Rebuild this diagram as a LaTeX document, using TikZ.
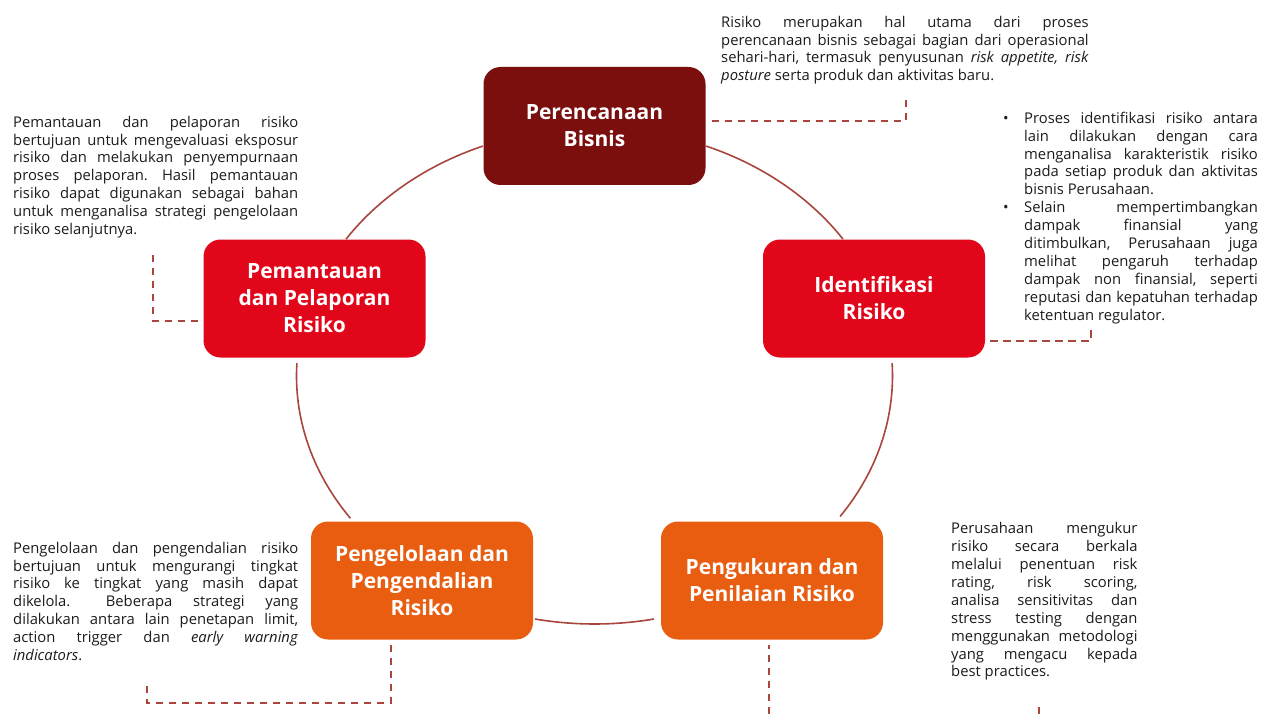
\documentclass[tikz,border=0pt]{standalone}
\usepackage{fontspec}
\setmainfont{Open Sans}
\usetikzlibrary{calc}
\definecolor{darkred}{HTML}{7A0F0E}
\definecolor{brightred}{HTML}{E2061A}
\definecolor{orangebox}{HTML}{E85D0F}
\definecolor{linecol}{HTML}{A8463E}
\definecolor{textcol}{HTML}{1E1B1C}
\newcommand{\bodyfont}{\fontsize{14.8}{17.9}\selectfont\color{textcol}\frenchspacing}
\newcommand{\firststrut}{\rule{0pt}{11pt}}
\newcommand{\jline}[2]{\makebox[#1][s]{#2}}
\hbadness=10000
\hfuzz=30pt
\begin{document}
\begin{tikzpicture}[x=1pt,y=-1pt,
  stage/.style={rounded corners=17pt, minimum width=222pt, minimum height=118pt, text=white, align=center, font=\fontsize{21}{27}\selectfont\bfseries, inner sep=0pt},
  para/.style={anchor=north west, inner sep=0pt},
  cyclearc/.style={draw=linecol, line width=1.6pt},
  leader/.style={draw=linecol, line width=1.6pt, dash pattern=on 7.5pt off 5.5pt}
]
\useasboundingbox[fill=white] (0,0) rectangle (1271,714);

% cycle arcs (segments of one ellipse)
\draw[cyclearc] plot[domain=-68:-33.5, samples=40] ({594.5+298*cos(\x)},{376+248*sin(\x)});
\draw[cyclearc] plot[domain=-3:34.5, samples=40] ({594.5+298*cos(\x)},{376+248*sin(\x)});
\draw[cyclearc] plot[domain=78.5:101.5, samples=30] ({594.5+298*cos(\x)},{376+248*sin(\x)});
\draw[cyclearc] plot[domain=145:183, samples=40] ({594.5+298*cos(\x)},{376+248*sin(\x)});
\draw[cyclearc] plot[domain=213.5:248, samples=40] ({594.5+298*cos(\x)},{376+248*sin(\x)});

% stage boxes
\node[stage, fill=darkred] (pb) at (594.5,126) {Perencanaan\\Bisnis};
\node[stage, fill=brightred] (id) at (874,298.5) {Identifikasi\\Risiko};
\node[stage, fill=brightred] (pm) at (314.5,298.5) {Pemantauan\\dan Pelaporan\\Risiko};
\node[stage, fill=orangebox] (pg) at (422,580.5) {Pengelolaan dan\\Pengendalian\\Risiko};
\node[stage, fill=orangebox] (pk) at (772,580.5) {Pengukuran dan\\Penilaian Risiko};

% dashed leaders
\begin{scope}
\clip (0,0) rectangle (1271,714);
\coordinate (pbs) at ($(pb.east)+(6,-5)$);
\coordinate (pbe) at (906,95);
\draw[leader] (pbs) -| (pbe);
\coordinate (ids) at ($(id.south east)+(5,-17)$);
\coordinate (ide) at (1091,325);
\draw[leader] (ids) -| (ide);
\coordinate (pms) at ($(pm.west)+(-5,22.5)$);
\coordinate (pme) at (153,254);
\draw[leader] (pms) -| (pme);
\coordinate (pgs) at ($(pg.south)+(-31,5)$);
\coordinate (pgc) at (147,703);
\coordinate (pge) at (147,682);
\draw[leader] (pgs) |- (pgc) -- (pge);
\coordinate (pks) at ($(pk.south)+(-3,5)$);
\coordinate (pkc) at (1039,725);
\coordinate (pke) at (1039,707);
\draw[leader, dash phase=3pt] (pks) |- (pkc) -- (pke);
\end{scope}

% descriptions
\node[para] (tpb) at (721,15.7) {\parbox[t]{367.5pt}{\bodyfont\firststrut
\jline{367.5pt}{Risiko merupakan hal utama dari proses}\\
\jline{367.5pt}{perencanaan bisnis sebagai bagian dari operasional}\\
\jline{367.5pt}{sehari-hari, termasuk penyusunan \textit{risk appetite, risk}}\\
\textit{posture} serta produk dan aktivitas baru.}};

\node[para] (tid) at (1003,111.7) {\parbox[t]{255pt}{\bodyfont\firststrut
\makebox[21pt][l]{•}\jline{233.7pt}{Proses identifikasi risiko antara}\\
\hspace*{21pt}\jline{233.7pt}{lain dilakukan dengan cara}\\
\hspace*{21pt}\jline{233.7pt}{menganalisa karakteristik risiko}\\
\hspace*{21pt}\jline{233.7pt}{pada setiap produk dan aktivitas}\\
\hspace*{21pt}bisnis Perusahaan.\\
\makebox[21pt][l]{•}\jline{233.7pt}{Selain mempertimbangkan}\\
\hspace*{21pt}\jline{233.7pt}{dampak finansial yang}\\
\hspace*{21pt}\jline{233.7pt}{ditimbulkan, Perusahaan juga}\\
\hspace*{21pt}\jline{233.7pt}{melihat pengaruh terhadap}\\
\hspace*{21pt}\jline{233.7pt}{dampak non finansial, seperti}\\
\hspace*{21pt}\jline{233.7pt}{reputasi dan kepatuhan terhadap}\\
\hspace*{21pt}ketentuan regulator.}};

\node[para] (tpm) at (13,115.7) {\parbox[t]{285pt}{\bodyfont\firststrut
\jline{285pt}{Pemantauan dan pelaporan risiko}\\
\jline{285pt}{bertujuan untuk mengevaluasi eksposur}\\
\jline{285pt}{risiko dan melakukan penyempurnaan}\\
\jline{285pt}{proses pelaporan. Hasil pemantauan}\\
\jline{285pt}{risiko dapat digunakan sebagai bahan}\\
\jline{285pt}{untuk menganalisa strategi pengelolaan}\\
risiko selanjutnya.}};

\node[para] (tpg) at (13,541.7) {\parbox[t]{285pt}{\bodyfont\firststrut
\jline{285pt}{Pengelolaan dan pengendalian risiko}\\
\jline{285pt}{bertujuan untuk mengurangi tingkat}\\
\jline{285pt}{risiko ke tingkat yang masih dapat}\\
\jline{285pt}{dikelola. \quad Beberapa strategi yang}\\
\jline{285pt}{dilakukan antara lain penetapan limit,}\\
\jline{285pt}{action trigger dan \textit{early warning}}\\
\textit{indicators}.}};

\node[para] (tpk) at (951,522.3) {\parbox[t]{186.3pt}{\bodyfont\firststrut
\jline{186.3pt}{Perusahaan mengukur}\\
\jline{186.3pt}{risiko secara berkala}\\
\jline{186.3pt}{melalui penentuan risk}\\
\jline{186.3pt}{rating, risk scoring,}\\
\jline{186.3pt}{analisa sensitivitas dan}\\
\jline{186.3pt}{stress testing dengan}\\
\jline{186.3pt}{menggunakan metodologi}\\
\jline{186.3pt}{yang mengacu kepada}\\
best practices.}};
\end{tikzpicture}
\end{document}
